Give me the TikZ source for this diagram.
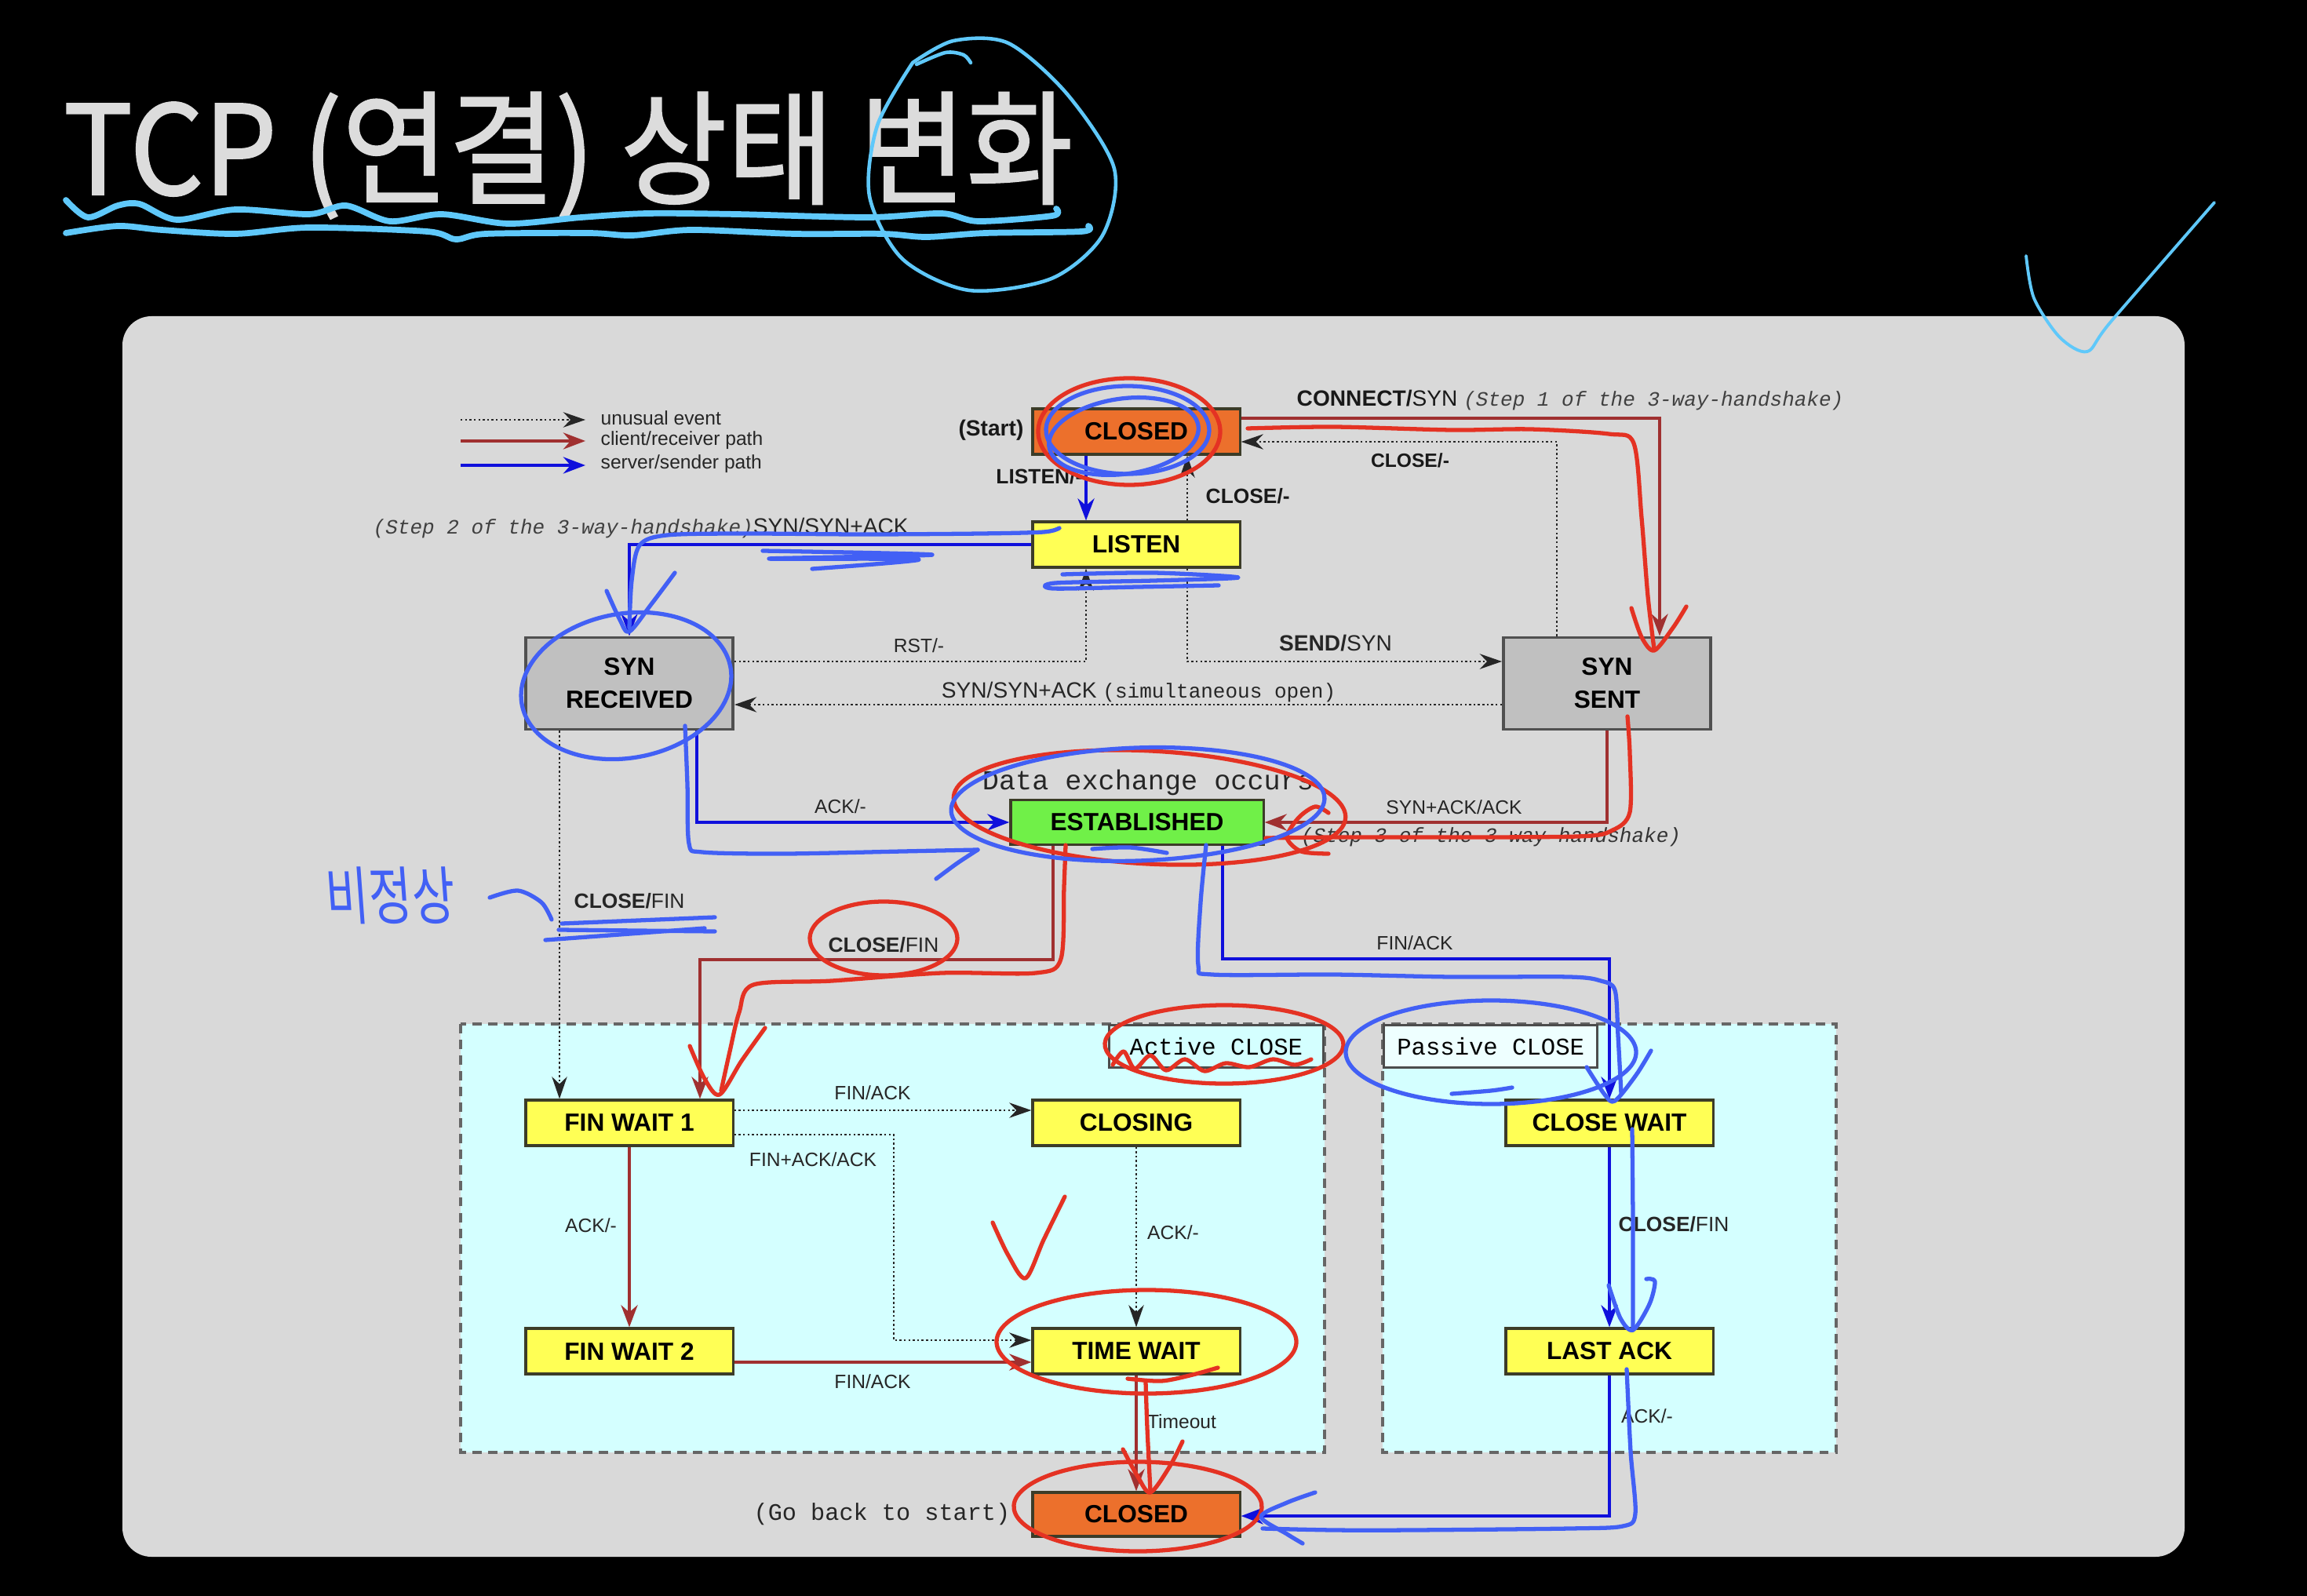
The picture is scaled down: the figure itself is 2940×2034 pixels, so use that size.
\documentclass[tikz,border=0pt]{standalone}
\usepackage{fontspec}
\setmainfont{Liberation Sans}
\setmonofont{Liberation Mono}
\newfontfamily\kr{Noto Sans CJK KR}
\newfontfamily\krtitle[FakeBold=1.3]{Noto Sans CJK KR}
\usetikzlibrary{arrows.meta}

\definecolor{panel}{RGB}{217,217,217}
\definecolor{closedor}{RGB}{236,112,44}
\definecolor{stateyel}{RGB}{255,255,85}
\definecolor{estgreen}{RGB}{112,240,72}
\definecolor{syngray}{RGB}{192,192,192}
\definecolor{regioncyan}{RGB}{212,255,255}
\definecolor{brownpath}{RGB}{160,48,48}
\definecolor{bluepath}{RGB}{16,16,220}
\definecolor{boxline}{RGB}{60,60,40}
\definecolor{boxline2}{RGB}{80,80,80}
\definecolor{penblue}{RGB}{66,96,245}
\definecolor{penred}{RGB}{228,50,35}
\definecolor{skyblue}{RGB}{95,200,250}
\definecolor{titlegray}{RGB}{220,220,220}

% a hand-drawn loop: style, cx, cy, rx, ry, rotation
\newcommand{\handloop}[6]{%
  \draw[#1] [shift={(#2,#3)}, rotate=#6] (120:#4 and #5)
    arc[start angle=120, end angle=495, x radius=#4, y radius=#5];}

\begin{document}
\begin{tikzpicture}[x=0.01cm, y=-0.01cm,
  stbox/.style={draw=boxline, line width=0.9pt, minimum width=2.64cm,
    minimum height=0.58cm, inner sep=0pt,
    font=\bfseries\fontsize{9}{11}\selectfont},
  bigbox/.style={stbox, fill=syngray, draw=boxline2, line width=1.1pt,
    minimum height=1.17cm, align=center,
    font=\bfseries\fontsize{9}{12}\selectfont},
  rpath/.style={draw=brownpath, line width=1.1pt,
    -{Stealth[length=8pt,width=6pt]}},
  bpath/.style={draw=bluepath, line width=1.1pt,
    -{Stealth[length=8pt,width=6pt]}},
  dpath/.style={draw=black!85, line width=0.75pt,
    dash pattern=on 0.7pt off 0.9pt,
    -{Stealth[length=8pt,width=5.5pt]}},
  lbl/.style={inner sep=0pt, text=black!85, font=\fontsize{7}{8.5}\selectfont},
  lblb/.style={inner sep=0pt, text=black!90,
    font=\bfseries\fontsize{7.5}{9}\selectfont},
  monoi/.style={inner sep=0pt, text=black!80,
    font=\ttfamily\itshape\fontsize{7.4}{9}\selectfont},
  mono/.style={inner sep=0pt, text=black!85,
    font=\ttfamily\fontsize{8.6}{10}\selectfont},
  region/.style={draw=black!60, line width=1pt, dash pattern=on 3.4pt off 2.3pt,
    fill=regioncyan},
  hred/.style={draw=penred, line width=1.5pt, line cap=round, line join=round},
  hblue/.style={draw=penblue, line width=1.5pt, line cap=round, line join=round},
  hsky/.style={draw=skyblue, line width=2.2pt, line cap=round, line join=round}
]
% canvas and panel
\useasboundingbox (0,0) rectangle (2940,2034);
\fill[black] (0,0) rectangle (2940,2034);
\fill[panel, rounded corners=0.37cm] (156,403) rectangle (2784,1984);

% title
\node[anchor=base west, inner sep=0pt, text=titlegray, yscale=1.07,
  font=\krtitle\fontsize{42}{50}\selectfont] (title) at (80,248) {TCP (연결) 상태 변화};

% close regions
\draw[region] (587,1305) rectangle (1688,1851);
\draw[region] (1762,1305) rectangle (2340,1851);
\node[draw=black!70, line width=0.9pt, fill=regioncyan, anchor=north east,
  minimum width=2.73cm, minimum height=0.54cm, inner sep=0pt,
  font=\ttfamily\fontsize{8.7}{10}\selectfont] (activelbl) at (1688,1305) {Active CLOSE};
\node[draw=black!70, line width=0.9pt, fill=white!60!regioncyan, anchor=north west,
  minimum width=2.72cm, minimum height=0.54cm, inner sep=0pt,
  font=\ttfamily\fontsize{8.7}{10}\selectfont] (passivelbl) at (1762,1305) {Passive CLOSE};

% legend
\coordinate (lg1a) at (587,535); \coordinate (lg1b) at (746,535);
\coordinate (lg2a) at (587,562); \coordinate (lg2b) at (746,562);
\coordinate (lg3a) at (587,593); \coordinate (lg3b) at (746,593);
\draw[dpath] (lg1a) -- (lg1b);
\draw[rpath] (lg2a) -- (lg2b);
\draw[bpath] (lg3a) -- (lg3b);
\node[lbl, anchor=west] (lgt1) at (765,533) {unusual event};
\node[lbl, anchor=west] (lgt2) at (765,561) {client/receiver path};
\node[lbl, anchor=west] (lgt3) at (765,591) {server/sender path};

% states
\node[stbox, fill=closedor] (closedT) at (1448,550) {CLOSED};
\node[stbox, fill=stateyel] (listen) at (1448,694) {LISTEN};
\node[bigbox] (synrcvd) at (802,871) {SYN\\RECEIVED};
\node[bigbox] (synsent) at (2048,871) {SYN\\SENT};
\node[stbox, fill=estgreen, minimum width=3.22cm, minimum height=0.57cm] (estab) at (1449,1048) {ESTABLISHED};
\node[stbox, fill=stateyel] (finwait1) at (802,1431) {FIN WAIT 1};
\node[stbox, fill=stateyel] (closing) at (1448,1431) {CLOSING};
\node[stbox, fill=stateyel] (finwait2) at (802,1722) {FIN WAIT 2};
\node[stbox, fill=stateyel] (timewait) at (1448,1722) {TIME WAIT};
\node[stbox, fill=closedor, minimum height=0.56cm] (closedB) at (1448,1930) {CLOSED};
\node[stbox, fill=stateyel] (closewait) at (2051,1431) {CLOSE WAIT};
\node[stbox, fill=stateyel] (lastack) at (2051,1722) {LAST ACK};

% transitions
\draw[bpath] (closedT.south -| 1384,0) -- (listen.north -| 1384,0);
\draw[dpath] (listen.north -| 1513,0) -- (closedT.south -| 1513,0);
\draw[rpath] (closedT.east |- 0,533) -| (synsent.north -| 2115,0);
\draw[dpath] (synsent.north -| 1984,0) |- (closedT.east |- 0,563);
\draw[bpath] (listen.west) -| (synrcvd.north);
\draw[dpath] (synrcvd.east |- 0,843) -| (listen.south -| 1384,0);
\draw[dpath] (listen.south -| 1513,0) |- (synsent.west |- 0,843);
\draw[dpath] (synsent.west |- 0,898) -- (synrcvd.east |- 0,898);
\draw[bpath] (synrcvd.south -| 888,0) |- (estab.west);
\draw[rpath] (synsent.south) |- (estab.east);
\draw[dpath] (synrcvd.south -| 713,0) -- (finwait1.north -| 713,0);
\draw[rpath] (estab.south -| 1342,0) -- (1342,1223) -| (finwait1.north -| 892,0);
\draw[bpath] (estab.south -| 1558,0) -- (1558,1222) -| (closewait.north);
\draw[dpath] (finwait1.east |- 0,1415) -- (closing.west |- 0,1415);
\draw[dpath] (finwait1.east |- 0,1446) -- (1139,1446) |- (timewait.west |- 0,1708);
\draw[rpath] (finwait1.south) -- (finwait2.north);
\draw[dpath] (closing.south) -- (timewait.north);
\draw[rpath] (finwait2.east |- 0,1736) -- (timewait.west |- 0,1736);
\draw[rpath] (timewait.south) -- (closedB.north);
\draw[bpath] (closewait.south) -- (lastack.north);
\draw[bpath] (lastack.south) |- (closedB.east |- 0,1932);

% transition labels
\node[lblb, font=\bfseries\fontsize{8}{10}\selectfont] (lstart) at (1263,548) {(Start)};
\node[lblb, anchor=east] (llisten) at (1380,607) {LISTEN/-};
\node[lblb, anchor=west] (lclose1) at (1536,632) {CLOSE/-};
\node[lbl, anchor=west, font=\fontsize{8}{10}\selectfont, text=black!90] (lconnect) at (1652,510)
  {\textbf{CONNECT/}SYN {\ttfamily\itshape\fontsize{7.4}{9}\selectfont\color{black!75} (Step 1 of the 3-way-handshake)}};
\node[lblb, font=\bfseries\fontsize{7}{9}\selectfont] (lclose2) at (1797,587) {CLOSE/-};
\node[lbl, anchor=west, font=\fontsize{8}{10}\selectfont] (lstep2) at (475,673)
  {{\ttfamily\itshape\fontsize{7.4}{9}\selectfont\color{black!75}(Step 2 of the 3-way-handshake)}SYN/SYN+ACK};
\node[lbl] (lrst) at (1171,823) {RST/-};
\node[lbl, font=\fontsize{8}{10}\selectfont] (lsend) at (1702,820) {\textbf{SEND/}SYN};
\node[lbl, font=\fontsize{8}{10}\selectfont] (lsimul) at (1451,882)
  {SYN/SYN+ACK {\ttfamily\fontsize{7.4}{9}\selectfont (simultaneous open)}};
\node[inner sep=0pt, font=\ttfamily\fontsize{10}{12}\selectfont, text=black!85] (ldata) at (1463,997) {Data exchange occurs};
\node[lbl] (lack1) at (1071,1028) {ACK/-};
\node[lbl] (lsynack) at (1853,1029) {SYN+ACK/ACK};
\node[monoi] (lstep3) at (1900,1067) {(Step 3 of the 3-way-handshake)};
\node[lbl, anchor=west, font=\fontsize{7.5}{9}\selectfont] (lclosefin1) at (731,1148) {\textbf{CLOSE/}FIN};
\node[lbl, font=\fontsize{7.5}{9}\selectfont] (lclosefin2) at (1126,1204) {\textbf{CLOSE/}FIN};
\node[lbl] (lfinack1) at (1803,1202) {FIN/ACK};
\node[lbl] (lfinack2) at (1112,1393) {FIN/ACK};
\node[lbl] (lfinackack) at (1036,1478) {FIN+ACK/ACK};
\node[lbl] (lack2) at (753,1562) {ACK/-};
\node[lbl] (lack3) at (1495,1571) {ACK/-};
\node[lbl] (lfinack3) at (1112,1761) {FIN/ACK};
\node[lbl] (ltimeout) at (1506,1812) {Timeout};
\node[lbl, anchor=west, font=\fontsize{7.5}{9}\selectfont] (lclosefin3) at (2062,1560) {\textbf{CLOSE/}FIN};
\node[lbl] (lack4) at (2099,1805) {ACK/-};
\node[mono, anchor=east] (lgoback) at (1288,1930) {(Go back to start)};

% ---- pen annotations ----
% title underlines, circle and tick
\draw[hsky] plot[smooth] coordinates {(84,255) (112,277) (150,262) (178,260) (225,280) (300,267)
  (394,273) (441,262) (497,282) (563,273) (647,285) (741,277) (825,272) (938,273) (1106,277)
  (1200,272) (1247,282) (1341,275) (1346,266)};
\draw[hsky] plot[smooth] coordinates {(84,297) (150,288) (206,293) (300,298) (394,290) (544,295)
  (581,305) (619,298) (750,297) (806,300) (881,293) (1013,298) (1125,298) (1181,302) (1256,297)
  (1378,295) (1387,288)};
\draw[hsky, line width=1.3pt] plot[smooth] coordinates {(1163,80) (1215,52) (1285,55) (1360,120)
  (1420,215) (1405,300) (1340,355) (1235,370) (1150,330) (1108,250) (1118,160) (1163,80)};
\draw[hsky, line width=1.3pt] plot[smooth] coordinates {(1168,82) (1205,67) (1228,70) (1237,80)};
\draw[hsky, line width=1.1pt] plot[smooth] coordinates {(2582,326) (2592,380) (2625,430) (2660,448)
  (2690,410) (2822,258)};

% red pen
\handloop{hred}{1439}{550}{116}{68}{0}
\draw[hred] plot[smooth] coordinates {(1590,546) (1700,544) (1850,548) (1950,547) (2050,553)
  (2082,565) (2092,660) (2100,760) (2108,827)};
\draw[hred] plot[smooth] coordinates {(2079,775) (2092,812) (2108,829) (2132,800) (2149,773)};
\draw[hred] plot[smooth] coordinates {(2074,913) (2077,960) (2077,1035) (2055,1058) (2010,1066)
  (1800,1067) (1700,1067) (1613,1068)};
\draw[hred] plot[smooth] coordinates {(1693,1036) (1676,1028) (1655,1042) (1640,1067) (1658,1085) (1693,1088)};
\handloop{hred}{1465}{1029}{250}{72}{-3}
\draw[hred] plot[smooth] coordinates {(1358,1077) (1356,1130) (1352,1222) (1320,1240) (1200,1240)
  (1060,1250) (960,1255) (942,1290) (930,1340) (919,1390)};
\draw[hred] plot[smooth] coordinates {(879,1333) (898,1375) (917,1395) (945,1352) (975,1310)};
\handloop{hred}{1126}{1196}{94}{47}{0}
\handloop{hred}{1560}{1331}{152}{50}{0}
\draw[hred] plot[smooth] coordinates {(1418,1357) (1432,1340) (1446,1362) (1466,1345) (1486,1364)
  (1510,1350) (1535,1365) (1562,1355) (1592,1360) (1622,1350) (1650,1357) (1671,1350)};
\draw[hred] plot[smooth] coordinates {(1265,1558) (1285,1600) (1307,1629) (1330,1580) (1357,1525)};
\handloop{hred}{1461}{1710}{191}{66}{0}
\draw[hred] plot[smooth] coordinates {(1437,1757) (1480,1760) (1520,1752) (1552,1743)};
\draw[hred] plot[smooth] coordinates {(1460,1761) (1462,1820) (1466,1900)};
\draw[hred] plot[smooth] coordinates {(1431,1847) (1450,1882) (1466,1902) (1490,1870) (1507,1837)};
\handloop{hred}{1450}{1920}{158}{57}{0}

% blue pen
\handloop{hblue}{1437}{548}{104}{56}{0}
\handloop{hblue}{1432}{556}{96}{48}{8}
\draw[hblue] plot[smooth] coordinates {(1354,732) (1470,730) (1578,736) (1470,740) (1345,743)
  (1342,750) (1450,748) (1553,746)};
\draw[hblue] plot[smooth] coordinates {(1350,673) (1330,678) (1250,680) (1100,681) (950,680)
  (850,682) (815,695) (805,740) (802,800)};
\draw[hblue] plot[smooth] coordinates {(773,753) (790,790) (802,805) (830,770) (860,730)};
\draw[hblue] plot[smooth] coordinates {(972,702) (1188,707) (980,712) (1171,713) (1035,725)};
\handloop{hblue}{798}{874}{135}{92}{10}
\draw[hblue] plot[smooth] coordinates {(873,925) (876,1000) (878,1075) (895,1086) (1000,1088)
  (1150,1085) (1246,1083)};
\draw[hblue] plot[smooth] coordinates {(1246,1083) (1220,1100) (1193,1120)};
\handloop{hblue}{1450}{1025}{238}{72}{2}
\draw[hblue] plot[smooth] coordinates {(1392,1082) (1440,1080) (1487,1087)};
\draw[hblue] plot[smooth] coordinates {(1537,1077) (1530,1150) (1527,1230) (1545,1242) (1700,1242)
  (1850,1245) (2000,1245) (2040,1250) (2058,1262) (2062,1320) (2066,1394)};
\draw[hblue] plot[smooth] coordinates {(2022,1360) (2045,1395) (2058,1403) (2085,1370) (2104,1339)};
\handloop{hblue}{1900}{1341}{185}{66}{0}
\draw[hblue] plot[smooth] coordinates {(1850,1394) (1900,1390) (1927,1386)};
\draw[hblue] plot[smooth] coordinates {(2080,1439) (2081,1560) (2081,1695)};
\draw[hblue] plot[smooth] coordinates {(2050,1638) (2065,1680) (2081,1695) (2102,1662) (2109,1633) (2098,1630)};
\draw[hblue] plot[smooth] coordinates {(2073,1745) (2078,1850) (2084,1929) (2068,1945) (2000,1948)
  (1800,1950) (1700,1950) (1609,1948)};
\draw[hblue] plot[smooth] coordinates {(1676,1902) (1640,1915) (1607,1933) (1640,1955) (1660,1967)};
\draw[hblue] plot[smooth] coordinates {(624,1144) (660,1135) (690,1150) (703,1172)};
\draw[hblue] (716,1177) -- (911,1169);
\draw[hblue] (712,1185) -- (911,1187);
\draw[hblue] (695,1198) -- (898,1183);
\node[inner sep=0pt, text=penblue, font=\kr\fontsize{17}{20}\selectfont, yscale=1.35, xslant=-0.1]
  (memo) at (498,1141) {비정상};
\end{tikzpicture}
\end{document}
